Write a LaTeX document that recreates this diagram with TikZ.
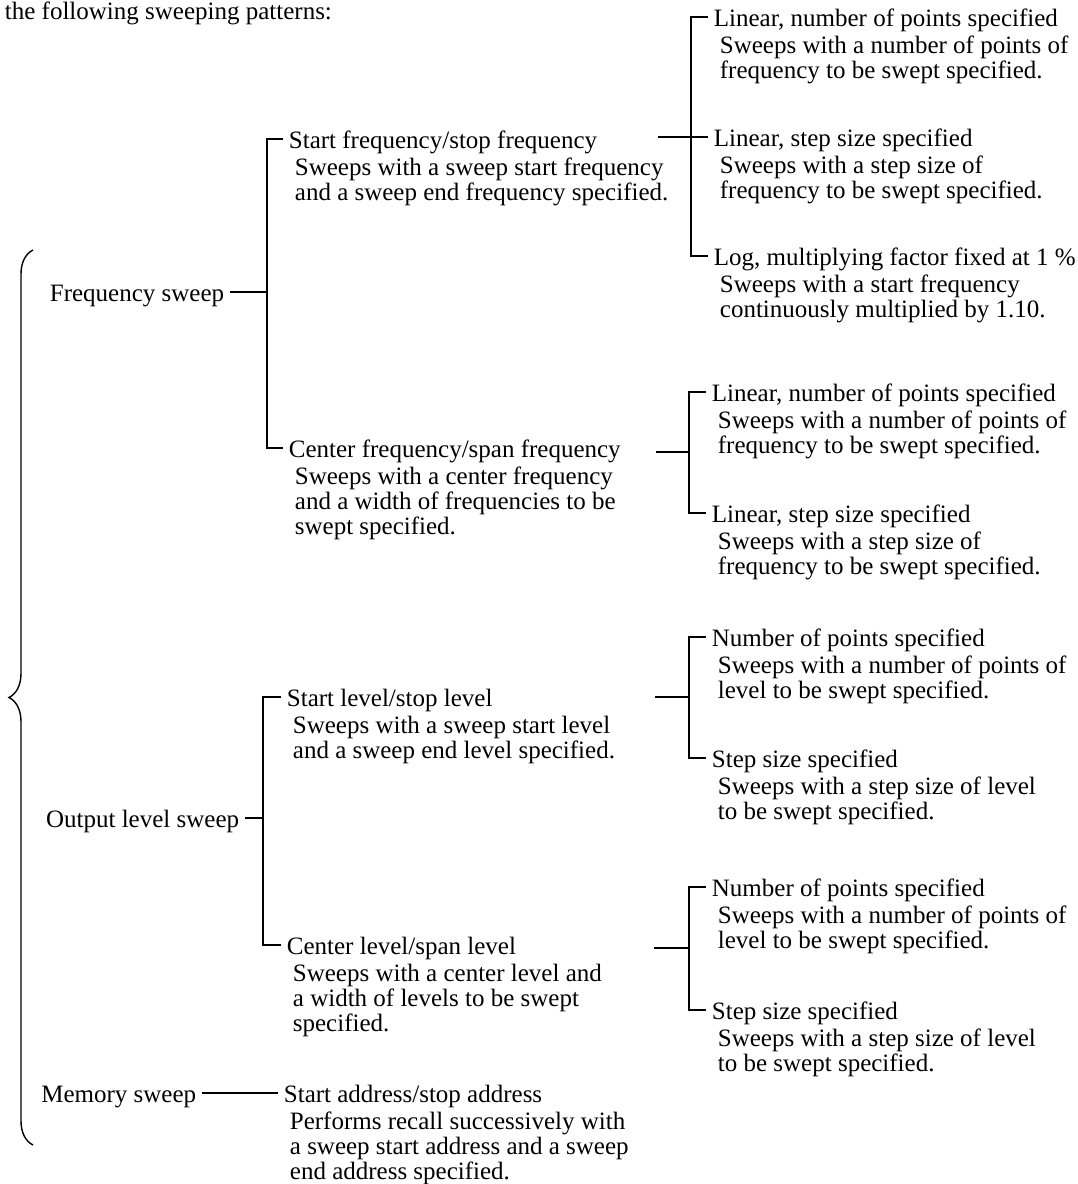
\documentclass[tikz,border=0pt]{standalone}
\usepackage{fontspec}
\setmainfont{Liberation Serif}
\usetikzlibrary{positioning,decorations.pathreplacing}
\begin{document}
\begin{tikzpicture}[x=0.5pt,y=-0.5pt,line width=0.9pt,
	font=\fontsize{12.5}{12.5}\selectfont,
	head/.style={inner xsep=2.5pt,inner ysep=0pt,text height=10pt,text depth=1pt,anchor=west},
	desc/.style={inner sep=0pt,align=left,anchor=north west}]
	\useasboundingbox (0,0) rectangle (1077,1184);
	\node[anchor=base west,inner sep=0pt] (intro) at (4,19) {the following sweeping patterns:};
	% brace
	\coordinate (btop) at (33,250);
	\coordinate (bbot) at (33,1145);
	\draw[line width=0.7pt,decorate,decoration={brace,amplitude=12pt}] (bbot)--(btop);
	% first level
	\node[head,anchor=east] (freq) at (230,292) {Frequency sweep};
	\node[head,anchor=east] (out) at (245,818) {Output level sweep};
	\node[head,anchor=east] (mem) at (202,1093) {Memory sweep};
	\coordinate (jf) at (267,292);
	\coordinate (jo) at (263,818);
	% second level
	\node[head] (sf) at (283,139) {Start frequency/stop frequency};
	\node[desc,below right=3pt and 5.5pt of sf.south west] (sfd) {Sweeps with a sweep start frequency\\and a sweep end frequency specified.};
	\node[head] (cf) at (283,448) {Center frequency/span frequency};
	\node[desc,below right=3pt and 5.5pt of cf.south west] (cfd) {Sweeps with a center frequency\\and a width of frequencies to be\\swept specified.};
	\node[head] (sl) at (281,697) {Start level/stop level};
	\node[desc,below right=3pt and 5.5pt of sl.south west] (sld) {Sweeps with a sweep start level\\and a sweep end level specified.};
	\node[head] (cl) at (281,945) {Center level/span level};
	\node[desc,below right=3pt and 5.5pt of cl.south west] (cld) {Sweeps with a center level and\\a width of levels to be swept\\specified.};
	\node[head] (sa) at (278,1093) {Start address/stop address};
	\node[desc,below right=3pt and 5.5pt of sa.south west] (sad) {Performs recall successively with\\a sweep start address and a sweep\\end address specified.};
	\draw (freq.east)--(jf);
	\draw (sf.west) -| (jf) |- (cf.west);
	\draw (out.east)--(jo);
	\draw (sl.west) -| (jo) |- (cl.west);
	\draw (mem.east)--(sa.west);
	% third level
	\node[head] (lin1) at (708,17) {Linear, number of points specified};
	\node[desc,below right=3pt and 5.5pt of lin1.south west] (lin1d) {Sweeps with a number of points of\\frequency to be swept specified.};
	\node[head] (lin2) at (708,137) {Linear, step size specified};
	\node[desc,below right=3pt and 5.5pt of lin2.south west] (lin2d) {Sweeps with a step size of\\frequency to be swept specified.};
	\node[head] (lin3) at (708,256) {Log, multiplying factor fixed at 1~\%};
	\node[desc,below right=3pt and 5.5pt of lin3.south west] (lin3d) {Sweeps with a start frequency\\continuously multiplied by 1.10.};
	\node[head] (lc1) at (706,392) {Linear, number of points specified};
	\node[desc,below right=3pt and 5.5pt of lc1.south west] (lc1d) {Sweeps with a number of points of\\frequency to be swept specified.};
	\node[head] (lc2) at (706,513) {Linear, step size specified};
	\node[desc,below right=3pt and 5.5pt of lc2.south west] (lc2d) {Sweeps with a step size of\\frequency to be swept specified.};
	\node[head] (nl1) at (706,637) {Number of points specified};
	\node[desc,below right=3pt and 5.5pt of nl1.south west] (nl1d) {Sweeps with a number of points of\\level to be swept specified.};
	\node[head] (nl2) at (706,758) {Step size specified};
	\node[desc,below right=3pt and 5.5pt of nl2.south west] (nl2d) {Sweeps with a step size of level\\to be swept specified.};
	\node[head] (nc1) at (706,887) {Number of points specified};
	\node[desc,below right=3pt and 5.5pt of nc1.south west] (nc1d) {Sweeps with a number of points of\\level to be swept specified.};
	\node[head] (nc2) at (706,1010) {Step size specified};
	\node[desc,below right=3pt and 5.5pt of nc2.south west] (nc2d) {Sweeps with a step size of level\\to be swept specified.};
	\coordinate (s1) at (658,137);
	\coordinate (v1) at (691,137);
	\coordinate (s2) at (656,452);
	\coordinate (v2) at (689,452);
	\coordinate (s3) at (655,697);
	\coordinate (v3) at (689,697);
	\coordinate (s4) at (654,948);
	\coordinate (v4) at (689,948);
	\draw (s1)--(lin2.west);
	\draw (lin1.west) -| (v1) |- (lin3.west);
	\draw (s2)--(v2);
	\draw (lc1.west) -| (v2) |- (lc2.west);
	\draw (s3)--(v3);
	\draw (nl1.west) -| (v3) |- (nl2.west);
	\draw (s4)--(v4);
	\draw (nc1.west) -| (v4) |- (nc2.west);
\end{tikzpicture}
\end{document}
